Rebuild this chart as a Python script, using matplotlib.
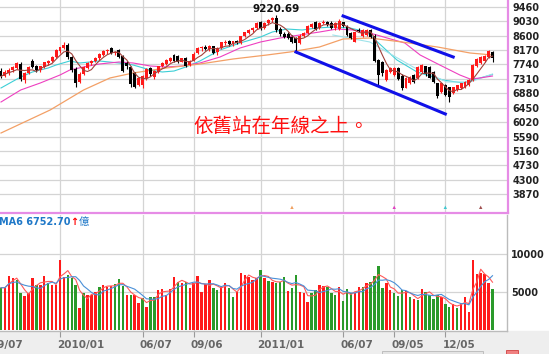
import numpy as np
import pandas as pd
import matplotlib
matplotlib.use("Agg")
import matplotlib.pyplot as plt
from matplotlib.patches import Rectangle
from matplotlib.transforms import ScaledTranslation

plt.rcParams["font.family"] = ["DejaVu Sans", "Noto Sans CJK TC"]

# ── Weekly OHLC ─────────────────────────────────────────────────────────────
opens = [7550, 7380, 7470, 7580, 7640, 7760, 7280, 7480, 7840, 7680,
         7560, 7670, 7780, 7850, 7950, 8150, 8240, 8330, 7950, 7600,
         7220, 7440, 7620, 7770, 7840, 7920, 8030, 8140, 8220, 8070,
         8160, 7980, 7780, 7660, 7480, 7130, 7120, 7330, 7620, 7360,
         7520, 7690, 7760, 7850, 8020, 8000, 7820, 7920, 7720, 7850,
         8080, 8220, 8270, 8200, 8280, 8100, 8230, 8390, 8450, 8340,
         8440, 8380, 8580, 8690, 8760, 8830, 8990, 8840, 8960, 9050,
         9130, 8800, 8660, 8650, 8560, 8520, 8390, 8600, 8690, 8860,
         8990, 8820, 8970, 9000, 8980, 8830, 8800, 8990, 8880, 8690,
         8420, 8780, 8600, 8620, 8770, 8600, 7870, 7800, 7280, 7500,
         7430, 7630, 7400, 7050, 7200, 7420, 7330, 7500, 7680, 7660,
         7520, 7190, 6920, 7120, 7060, 6890, 6980, 7040, 7080, 7130,
         7270, 7690, 7790, 7840, 7960, 8120]
highs = [7620, 7560, 7620, 7700, 7820, 7800, 7520, 7680, 7900, 7720,
         7700, 7820, 7880, 7990, 8200, 8270, 8395, 8380, 7990, 7660,
         7500, 7680, 7800, 7880, 7950, 8080, 8170, 8200, 8260, 8150,
         8200, 8030, 7830, 7700, 7520, 7370, 7420, 7640, 7660, 7580,
         7700, 7800, 7890, 7950, 8050, 8030, 7940, 7950, 7880, 8100,
         8250, 8300, 8320, 8310, 8300, 8250, 8420, 8460, 8470, 8450,
         8460, 8600, 8720, 8800, 8850, 9000, 9020, 9000, 9100, 9150,
         9221, 8850, 8720, 8700, 8620, 8560, 8640, 8720, 8900, 8960,
         9030, 9000, 9060, 9040, 9030, 8990, 9080, 9010, 8900, 8720,
         8720, 8820, 8800, 8790, 8800, 8640, 7900, 7830, 7600, 7650,
         7660, 7660, 7440, 7350, 7380, 7450, 7680, 7740, 7700, 7700,
         7540, 7200, 7200, 7150, 7080, 7080, 7140, 7200, 7240, 7300,
         7750, 7920, 8000, 8030, 8170, 8150]
lows = [7320, 7350, 7420, 7520, 7600, 7250, 7200, 7460, 7620, 7500,
        7520, 7640, 7720, 7820, 7930, 8080, 8200, 7900, 7500, 7080,
        7180, 7420, 7600, 7720, 7800, 7880, 8000, 8050, 8040, 8020,
        7920, 7500, 7600, 7060, 7030, 7100, 7030, 7280, 7400, 7300,
        7480, 7660, 7720, 7800, 7800, 7780, 7800, 7650, 7680, 7840,
        8060, 8150, 8180, 8150, 8060, 8020, 8200, 8330, 8300, 8300,
        8340, 8360, 8560, 8660, 8700, 8800, 8780, 8800, 8920, 9000,
        8720, 8590, 8540, 8510, 8380, 8070, 8360, 8560, 8660, 8820,
        8780, 8790, 8940, 8880, 8800, 8780, 8760, 8850, 8590, 8500,
        8400, 8700, 8560, 8600, 8540, 7800, 7130, 7400, 7250, 7470,
        7400, 7280, 6990, 7030, 7150, 7200, 7300, 7480, 7400, 7320,
        7180, 6750, 6880, 6800, 6610, 6860, 6950, 7000, 7050, 7100,
        7250, 7650, 7760, 7810, 7940, 7820]
closes = [7380, 7520, 7580, 7650, 7780, 7300, 7480, 7650, 7670, 7560,
          7680, 7800, 7850, 7960, 8180, 8250, 8330, 7950, 7560, 7200,
          7460, 7650, 7770, 7850, 7920, 8040, 8150, 8180, 8080, 8120,
          7950, 7530, 7680, 7150, 7080, 7330, 7400, 7600, 7440, 7540,
          7680, 7780, 7860, 7920, 7830, 7800, 7920, 7680, 7840, 8060,
          8230, 8260, 8200, 8280, 8080, 8220, 8400, 8420, 8340, 8430,
          8370, 8580, 8700, 8770, 8830, 8970, 8820, 8960, 9060, 9120,
          8780, 8640, 8570, 8540, 8420, 8380, 8600, 8690, 8870, 8940,
          8810, 8970, 9000, 8920, 8840, 8960, 9040, 8880, 8620, 8530,
          8700, 8740, 8760, 8770, 8570, 7840, 7420, 7480, 7560, 7620,
          7630, 7300, 7040, 7330, 7360, 7230, 7660, 7720, 7440, 7340,
          7220, 6790, 7180, 6830, 6770, 7060, 7120, 7180, 7210, 7270,
          7720, 7890, 7970, 8000, 8150, 7930]

# weekly turnover (億) and bar direction (R up / G down)
volumes = [5570, 5570, 7120, 6810, 6590, 4830, 4470, 4830, 6810, 5920,
           5920, 7120, 6150, 5920, 5920, 9240, 7030, 7250, 6810, 5920,
           2920, 4830, 4600, 4600, 5040, 5700, 5920, 5700, 5780, 6000,
           6680, 5780, 4600, 4600, 4600, 3580, 4160, 3050, 4380, 4380,
           5260, 5400, 4600, 5400, 7030, 6370, 6240, 6370, 5570, 6240,
           7120, 5040, 6000, 6590, 5570, 5260, 5780, 6240, 5570, 4380,
           5040, 7480, 7250, 7030, 6590, 6810, 7920, 6810, 6460, 6370,
           6240, 6370, 7030, 5120, 5570, 7250, 4960, 4920, 3670, 4830,
           5260, 5920, 5780, 5700, 4920, 4600, 5700, 3800, 5350, 4830,
           4920, 5700, 5700, 6150, 6370, 7120, 8450, 5570, 6150, 5260,
           4830, 4470, 5260, 5120, 4380, 4030, 3960, 5400, 5040, 4600,
           4070, 4600, 4380, 3370, 3050, 3450, 2920, 3600, 4380, 2390,
           9240, 7350, 7480, 7350, 6150, 5400]
vol_dir = ("GRRRGGRRRG" "RRGRRRRGGG" "RGRRRGRRRG" "GGRGRRGRGG"
           "RRRRRGRGRR" "RRRRGGRRGG" "RRRRRRGRGR" "GGGRGGRRRG"
           "GRRGGGRGGG" "RRGRGGGGRR" "GGGRGRGRGG" "GGRGGRGRRR" "RRRRRG")

# longer moving averages at sample weeks
ma13_idx = [0, 5, 8, 12, 14, 17.5, 20, 22.6, 25, 30, 33.6, 38, 41, 44, 47, 50.6,
            55.7, 60.8, 66, 69, 72.7, 76.6, 80.4, 84.4, 88.8, 93, 100.7, 105.8,
            112.4, 117.5, 120, 125]
ma13_val = [7037, 7365, 7514, 7633, 7722, 7842, 7782, 7812, 7842, 7782, 7722, 7573,
            7514, 7543, 7663, 7842, 8170, 8378, 8557, 8706, 8795, 8766, 8825, 8855,
            8825, 8706, 7871, 7514, 7275, 7186, 7275, 7440]
ma20_idx = [84.4, 93.8, 104.8, 113.4, 119.3, 125]
ma20_val = [8617, 8408, 7663, 7216, 7216, 7454]
ma26_idx = [0, 5, 10, 15, 17.5, 21, 25, 30, 33.6, 38, 42, 46, 50.6, 55.7, 60.8,
            66, 71, 76, 81, 85.5, 89.5, 93.8, 98.2, 102.7, 106.6, 111.6, 116.7,
            119.3, 121.8, 125]
ma26_val = [6619, 6977, 7186, 7424, 7573, 7663, 7752, 7812, 7782, 7692, 7663, 7692,
            7782, 7961, 8229, 8408, 8527, 8617, 8706, 8795, 8766, 8676, 8527, 8378,
            8020, 7722, 7424, 7305, 7335, 7394]
ma52_idx = [0, 12.5, 21, 27.7, 33.6, 42, 50.6, 59, 67.6, 73.5, 81, 87, 93.8,
            102, 111, 119.3, 125]
ma52_val = [5695, 6381, 6977, 7335, 7484, 7633, 7752, 7901, 8020, 8110, 8259,
            8497, 8527, 8408, 8259, 8080, 8020]

# hand-drawn down channel (week index, price)
chan_up_idx, chan_up_val = [87, 115], [9183, 7961]
chan_lo_idx, chan_lo_val = [75, 113], [8110, 6262]

grid_idx = [-2, 15, 36, 49, 66, 87, 100, 113]
grid_lab = ["09/07", "2010/01", "06/07", "09/06", "2011/01", "06/07", "09/05", "12/05"]
price_ticks = [3870, 4300, 4730, 5160, 5590, 6020, 6450, 6880, 7310, 7740,
               8170, 8600, 9030, 9460]
vol_ticks = [5000, 10000]
event_idx = [74, 100, 113, 122]
event_col = ["#f0a060", "#e040c0", "#40c8d0", "#a05050"]

RED, GREEN, GRID = "#ff1a1a", "#2a9a2a", "#d4d4d4"

N = len(closes)
x = np.arange(N)
o, h, l, c = map(np.asarray, (opens, highs, lows, closes))
up = c >= o

W, H = 549, 354
fig = plt.figure(figsize=(W / 100, H / 100), dpi=100)
fig.add_artist(Rectangle((0, 0), 1, 23 / H, transform=fig.transFigure,
                         color="#eeeeee", zorder=-10))
# scroll bar and small icon strip at the very bottom
fig.add_artist(Rectangle((382 / W, 0), 101 / W, 3 / H, transform=fig.transFigure,
                         facecolor="#e4e4e4", edgecolor="#b8b8b8", linewidth=0.6))
fig.add_artist(Rectangle((506 / W, 0), 12 / W, 4 / H, transform=fig.transFigure,
                         facecolor="#f08080", edgecolor="#d04040", linewidth=0.6))


def box(left, top, right, bottom):
    return [left / W, 1 - bottom / H, (right - left) / W, (bottom - top) / H]


px = 3.932  # pixels per week
ax_p = fig.add_axes(box(0, 0, 508, 213))
ax_v = fig.add_axes(box(0, 215, 507, 330.5))

for ax in (ax_p, ax_v):
    ax.set_xticks(grid_idx)
    ax.grid(True, color=GRID, linewidth=0.9)
    ax.set_axisbelow(True)
    ax.yaxis.tick_right()
    for s in ("top", "left"):
        ax.spines[s].set_visible(False)

# limits after the ticks, so the off-screen 09/07 tick does not widen the view
ax_p.set_xlim(-1 / px, 507 / px)
ax_v.set_xlim(-1 / px, 506 / px)
ax_p.set_ylim(3310, 9660)
ax_v.set_ylim(-106, 15211)

# ── price panel ─────────────────────────────────────────────────────────────
ax_p.set_yticks(price_ticks)
ax_p.set_ylim(3310, 9660)
ax_p.tick_params(axis="x", length=0, labelbottom=False)
ax_p.tick_params(axis="y", length=0, pad=3, labelsize=7, labelcolor="#222222")
for s in ("right", "bottom"):
    ax_p.spines[s].set_color("#e68ce6")
    ax_p.spines[s].set_linewidth(1.6)

candle_col = np.where(up, RED, "black")
ax_p.vlines(x, l, h, colors=candle_col, linewidth=0.8, zorder=3)
body_lo = np.minimum(o, c)
body_h = np.maximum(np.abs(c - o), 15)
ax_p.bar(x, body_h, bottom=body_lo, width=0.75, color=candle_col, linewidth=0, zorder=3)

ma5 = pd.Series(closes).rolling(5, min_periods=1).mean()
ax_p.plot(x, ma5, color="#a0403a", linewidth=0.8, zorder=4)
ax_p.plot(ma13_idx, ma13_val, color="#3ccfd6", linewidth=0.8, zorder=2)
ax_p.plot(ma20_idx, ma20_val, color="#9fe3ea", linewidth=0.8, zorder=2)
ax_p.plot(ma26_idx, ma26_val, color="#ee3fc0", linewidth=0.8, zorder=2)
ax_p.plot(ma52_idx, ma52_val, color="#f3a066", linewidth=0.9, zorder=2)

ax_p.plot(chan_up_idx, chan_up_val, color="#1010e8", linewidth=2.2, zorder=5)
ax_p.plot(chan_lo_idx, chan_lo_val, color="#1010e8", linewidth=2.2, zorder=5)

ax_p.scatter(event_idx, [3480] * len(event_idx), marker="^", s=6, c=event_col,
             linewidths=0, zorder=5)

ax_p.text(70, 9240, "9220.69", ha="center", va="bottom", fontsize=7.5,
          fontweight="bold", color="#111111")
ax_p.text(71.2, 5904, "依舊站在年線之上。", ha="center", va="center", fontsize=14,
          color="#ff1010", family=["Noto Sans CJK TC"])

# ── volume panel ────────────────────────────────────────────────────────────
vol_col = [RED if d == "R" else GREEN for d in vol_dir]
ax_v.bar(x, volumes, width=0.62, color=vol_col, linewidth=0, zorder=3)
vs = pd.Series(volumes)
ax_v.plot(x, vs.rolling(3, min_periods=1).mean(), color="#ff5a5a", linewidth=0.8, zorder=4)
ax_v.plot(x, vs.rolling(6, min_periods=1).mean(), color="#4a90d8", linewidth=0.8, zorder=4)

ax_v.set_yticks(vol_ticks)
ax_v.set_ylim(-106, 15211)
ax_v.tick_params(axis="y", length=0, pad=3, labelsize=7, labelcolor="#222222")
ax_v.tick_params(axis="x", length=4, color="#999999", labelbottom=False)
for s in ("right", "bottom"):
    ax_v.spines[s].set_color("#bbbbbb")
    ax_v.spines[s].set_linewidth(1.0)

shift = ScaledTranslation(-3 / 100, 0, fig.dpi_scale_trans)
for gi, lab in zip(grid_idx, grid_lab):
    ax_v.text(gi, -0.125, lab, transform=ax_v.get_xaxis_transform() + shift,
              ha="left", va="center", fontsize=7.5, fontweight="bold",
              color="#666666", clip_on=False)

for lab in ax_p.get_yticklabels() + ax_v.get_yticklabels():
    lab.set_fontweight("bold")

fig.text(-1 / W, 1 - 222 / H, "MA6 6752.70", ha="left", va="center", fontsize=7,
         fontweight="bold", color="#1f78c8")
fig.text(70.5 / W, 1 - 222 / H, "↑", ha="left", va="center", fontsize=7,
         fontweight="bold", color="#ff0000")
fig.text(78.5 / W, 1 - 222 / H, "億", ha="left", va="center", fontsize=7.5,
         color="#1f78c8", family=["Noto Sans CJK TC"])

fig.savefig("out.png", dpi=100)
